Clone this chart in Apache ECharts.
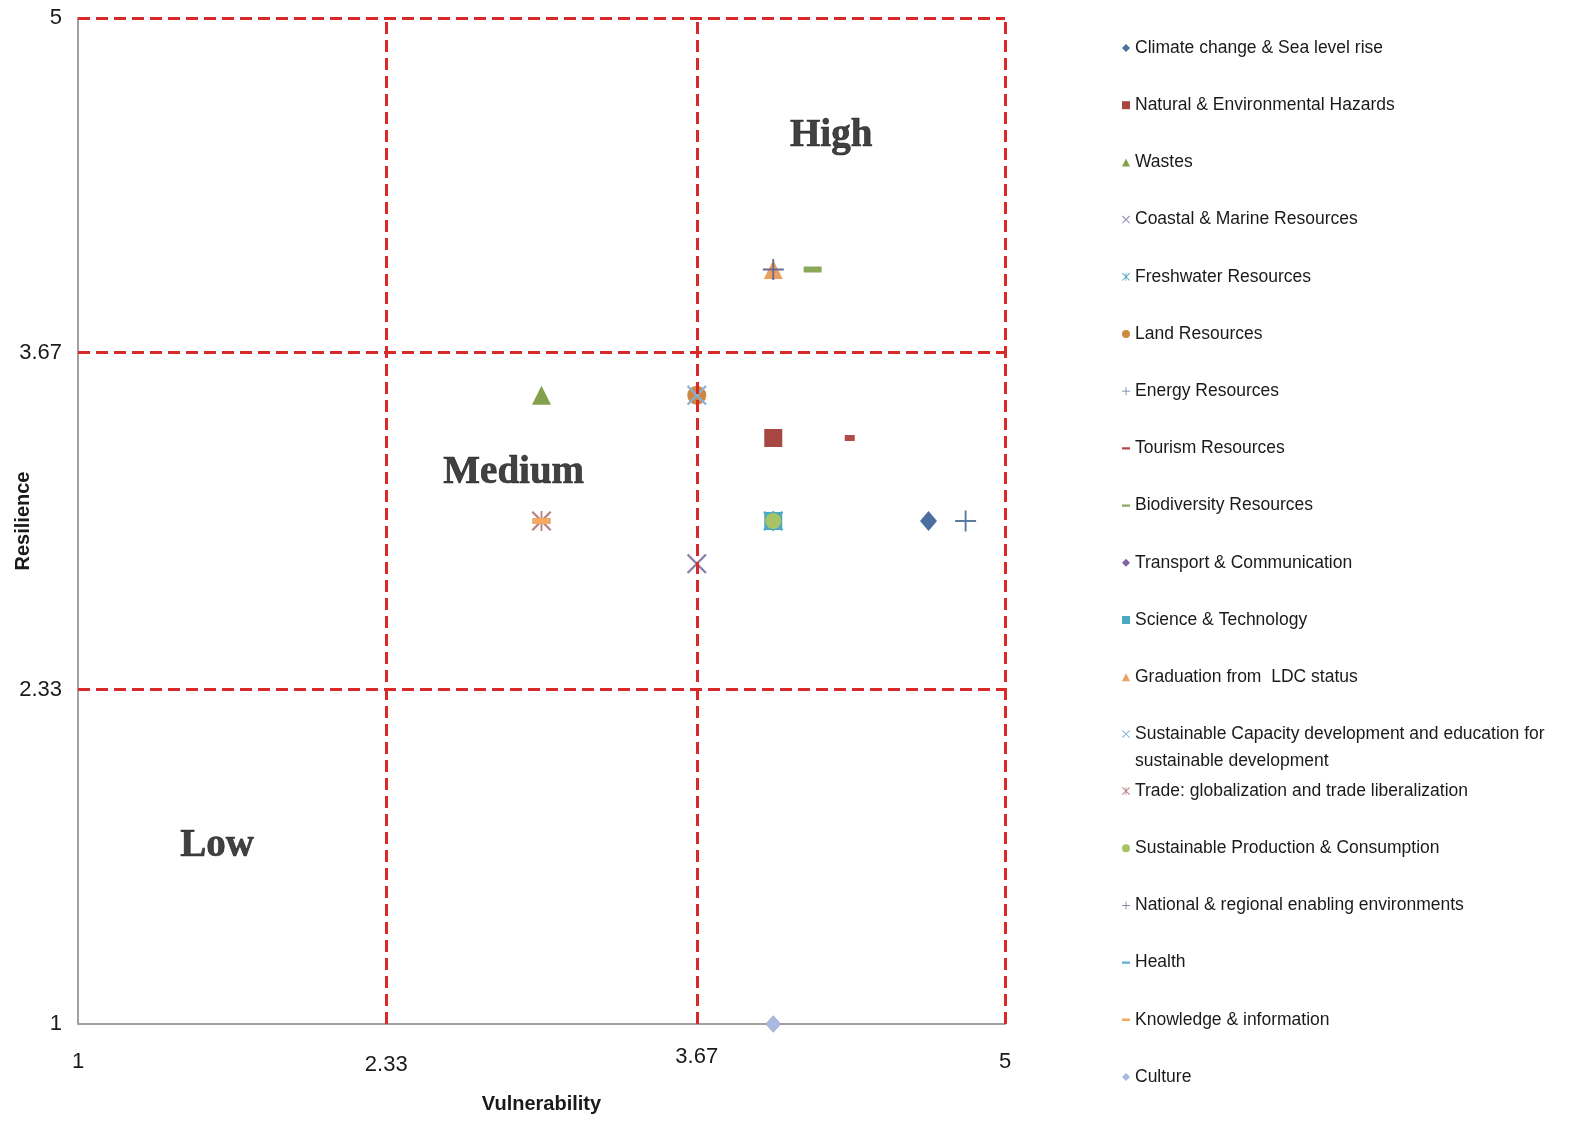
<!DOCTYPE html>
<html>
<head>
<meta charset="utf-8">
<script src="https://cdn.jsdelivr.net/npm/echarts@6/dist/echarts.min.js"></script>
<style>
html,body{margin:0;padding:0;background:#fff;}
#chart{width:1578px;height:1124px;}
</style>
</head>
<body>
<div id="chart"></div>
<script>
// ---------- data ----------
const seriesNames = [
  'Climate change & Sea level rise',
  'Natural & Environmental Hazards',
  'Wastes',
  'Coastal & Marine Resources',
  'Freshwater Resources',
  'Land Resources',
  'Energy Resources',
  'Tourism Resources',
  'Biodiversity Resources',
  'Transport & Communication',
  'Science & Technology',
  'Graduation from  LDC status',
  'Sustainable Capacity development and education for sustainable development',
  'Trade: globalization and trade liberalization',
  'Sustainable Production & Consumption',
  'National & regional enabling environments',
  'Health',
  'Knowledge & information',
  'Culture'
];
const vulnerability = [4.67, 4.0, 3.0, 3.67, 4.0, 3.67, 4.83, 4.33, 4.17, 4.0, 4.0, 4.0, 3.67, 3.0, 4.0, 4.0, 3.0, 3.0, 4.0];
const resilience    = [3.0, 3.33, 3.5, 2.83, 3.0, 3.5, 3.0, 3.33, 4.0, 1.0, 3.0, 4.0, 3.5, 3.0, 3.0, 4.0, 3.0, 3.0, 1.0];
const tickValues = [1, 2.33, 3.67, 5];
const thresholdLines = [2.33, 3.67, 5];
const zoneNames = ['High', 'Medium', 'Low'];
const zoneX = [4.25, 2.88, 1.6];
const zoneY = [4.53, 3.19, 1.71];

// ---------- styles ----------
const P_X = 'path://M0,0.8L0.8,0L10,9.2L9.2,10Z M9.2,0L10,0.8L0.8,10L0,9.2Z';
const P_AST = 'path://M0,0.8L0.8,0L10,9.2L9.2,10Z M9.2,0L10,0.8L0.8,10L0,9.2Z M4.55,0h0.9v10h-0.9z';
const P_PLUS = 'path://M4.55,0h0.9v10h-0.9z M0,4.55h10v0.9h-10z';
const P_DASH = 'path://M0,0h0.01v0.01h-0.01z M0,3.5h10v3h-10z M9.99,9.99h0.01v0.01h-0.01z';

const styles = [
  {sym:'diamond', size:[17,20], color:'#4a6fa0', icon:'diamond'},
  {sym:'rect', size:18, color:'#a84644', icon:'rect'},
  {sym:'triangle', size:[19,19], color:'#84a04c', icon:'triangle'},
  {sym:P_X, size:20, color:'#8c7aa6', icon:P_X},
  {sym:P_AST, size:20, color:'#4aa6c0', icon:P_AST},
  {sym:'circle', size:19, color:'#d08840', icon:'circle'},
  {sym:P_PLUS, size:21, color:'#5a7a9e', icon:P_PLUS},
  {sym:'rect', size:[10,6], color:'#b04c4c', icon:P_DASH},
  {sym:'rect', size:[18,6], color:'#8aa858', icon:P_DASH},
  {sym:'diamond', size:[15,17], color:'#8064a2', icon:'diamond'},
  {sym:'rect', size:18, color:'#4ba8c4', icon:'rect'},
  {sym:'triangle', size:[19,19], color:'#eba060', icon:'triangle'},
  {sym:P_X, size:20, color:'#88b0d8', icon:P_X},
  {sym:P_AST, size:20, color:'#b88080', icon:P_AST},
  {sym:'circle', size:16, color:'#a6c466', icon:'circle'},
  {sym:P_PLUS, size:21, color:'#6a6a90', icon:P_PLUS},
  {sym:'rect', size:[18,6], color:'#5fb0d0', icon:P_DASH},
  {sym:'rect', size:[18,6], color:'#f4a860', icon:P_DASH},
  {sym:'diamond', size:[15,17], color:'#a9b9e0', icon:'diamond'}
];

const series = seriesNames.map((n, i) => ({
  type: 'scatter',
  name: n,
  symbol: styles[i].sym,
  symbolSize: styles[i].size,
  itemStyle: {color: styles[i].color, opacity: 1},
  data: [[vulnerability[i], resilience[i]]],
  z: 3,
  clip: false,
  emphasis: {disabled: true}
}));

series.unshift({
  type: 'scatter',
  name: '__lines',
  data: [],
  silent: true,
  clip: false,
  markLine: {
    silent: true,
    symbol: 'none',
    animation: false,
    label: {show: false},
    lineStyle: {color: '#d92a2a', width: 3, type: [12, 6]},
    emphasis: {disabled: true},
    data: thresholdLines.map(v => ({xAxis: v})).concat(thresholdLines.map(v => ({yAxis: v})))
  },
  z: 2
});

series.push({
  type: 'scatter',
  name: '__zones',
  symbolSize: 0,
  silent: true,
  clip: false,
  data: zoneNames.map((n, i) => ({name: n, value: [zoneX[i], zoneY[i]]})),
  label: {
    show: true,
    position: 'inside',
    formatter: p => p.name,
    fontFamily: 'Liberation Serif',
    fontWeight: 'bold',
    fontSize: 39,
    color: '#111',
    textBorderColor: '#111',
    textBorderWidth: 0.7
  },
  z: 4
});

function mkIcon(i){ return {name: seriesNames[i], icon: styles[i].icon}; }
const legendBase = {
  orient: 'vertical',
  left: 1122,
  padding: 0,
  itemWidth: 8,
  itemHeight: 8,
  selectedMode: false,
  textStyle: {fontFamily: 'Liberation Sans', fontSize: 17.5, color: '#1a1a1a', lineHeight: 27},
  itemStyle: {borderWidth: 0}
};

const idxA = [0,1,2,3,4,5,6,7,8,9,10,11];
const idxC = [13,14,15,16,17,18];

const axisFont = {fontFamily: 'Liberation Sans', fontSize: 22, color: '#1a1a1a'};

const option = {
  backgroundColor: '#fff',
  animation: false,
  grid: {left: 78, top: 18, right: 573, bottom: 100, containLabel: false, outerBoundsMode: 'none'},
  xAxis: {
    type: 'value', min: 1, max: 5,
    name: 'Vulnerability', nameLocation: 'middle', nameGap: 70, nameMoveOverlap: false,
    nameTextStyle: {fontFamily: 'Liberation Sans', fontWeight: 'bold', fontSize: 20, color: '#1a1a1a'},
    axisLine: {show: true, lineStyle: {color: '#a0a0a0', width: 2}},
    axisTick: {show: false},
    splitLine: {show: false},
    axisLabel: {
      customValues: tickValues, margin: 22,
      formatter: v => (Math.abs(v - 3.67) < 1e-6 ? '{u|' + v + '}' : (Math.abs(v - 2.33) < 1e-6 ? '{d|' + v + '}' : '{n|' + v + '}')),
      rich: {
        u: Object.assign({}, axisFont, {padding: [0,0,0,0]}),
        n: Object.assign({}, axisFont, {padding: [5,0,0,0]}),
        d: Object.assign({}, axisFont, {padding: [8,0,0,0]})
      }
    }
  },
  yAxis: {
    type: 'value', min: 1, max: 5,
    name: 'Resilience', nameLocation: 'middle', nameGap: 45, nameMoveOverlap: false,
    nameTextStyle: {fontFamily: 'Liberation Sans', fontWeight: 'bold', fontSize: 20, color: '#1a1a1a'},
    axisLine: {show: true, lineStyle: {color: '#a0a0a0', width: 2}},
    axisTick: {show: false},
    splitLine: {show: false},
    axisLabel: Object.assign({customValues: tickValues, formatter: v => String(v), margin: 16}, axisFont)
  },
  legend: [
    Object.assign({}, legendBase, {top: 34.5, itemGap: 30.2, data: idxA.map(mkIcon)}),
    Object.assign({}, legendBase, {top: 693.5, data: [mkIcon(12)],
      formatter: n => '\n' + n.replace(' for ', ' for\n')}),
    Object.assign({}, legendBase, {top: 777.5, itemGap: 30.2, data: idxC.map(mkIcon)})
  ],
  series: series
};

const chart = echarts.init(document.getElementById('chart'));
chart.setOption(option);
</script>
</body>
</html>
